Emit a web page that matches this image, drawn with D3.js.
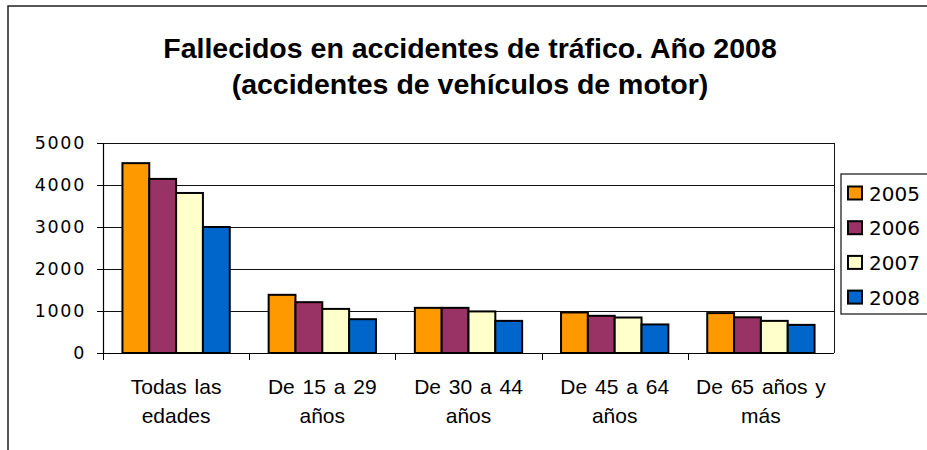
<!DOCTYPE html>
<html>
<head>
<meta charset="utf-8">
<script src="https://cdn.jsdelivr.net/npm/d3@7"></script>
<style>
  body { margin: 0; background: #fff; }
  svg { display: block; }
</style>
</head>
<body>
<div id="chart"></div>
<script>
// age groups (two label lines each)
const categories = ['Todas las edades', 'De 15 a 29 años', 'De 30 a 44 años', 'De 45 a 64 años', 'De 65 años y más'];
const categoryLines = [
  ['Todas las', 'edades'],
  ['De 15 a 29', 'años'],
  ['De 30 a 44', 'años'],
  ['De 45 a 64', 'años'],
  ['De 65 años y', 'más']
];
const years = ['2005', '2006', '2007', '2008'];
const values2005 = [4520, 1385, 1075, 965, 950];
const values2006 = [4145, 1210, 1075, 885, 850];
const values2007 = [3810, 1050, 990, 845, 765];
const values2008 = [3000, 805, 765, 680, 670];
const yTicks = [0, 1000, 2000, 3000, 4000, 5000];
const titleLines = ['Fallecidos en accidentes de tráfico. Año 2008', '(accidentes de vehículos de motor)'];

const series = [values2005, values2006, values2007, values2008];
const colors = ['#ff9900', '#993366', '#ffffcc', '#0066cc'];

const width = 927, height = 450;
const plot = { left: 103, right: 834, top: 143, bottom: 353 };

const svg = d3.select('#chart').append('svg')
    .attr('width', width)
    .attr('height', height);

// outer frame
svg.append('rect')
    .attr('x', 8).attr('y', 6)
    .attr('width', 940).attr('height', 460)
    .attr('fill', 'none')
    .attr('stroke', '#222')
    .attr('stroke-width', 1.5);

// title
svg.append('g')
    .attr('font-family', '"Liberation Sans", Arial, sans-serif')
    .attr('font-weight', 'bold')
    .attr('font-size', 28.5)
    .attr('text-anchor', 'middle')
  .selectAll('text')
  .data(titleLines)
  .join('text')
    .attr('x', 470)
    .attr('y', (d, i) => 58 + i * 36)
    .text(d => d);

const x0 = d3.scaleBand()
    .domain(categories)
    .range([plot.left, plot.right])
    .paddingInner(0.266)
    .paddingOuter(0.133);

const x1 = d3.scaleBand()
    .domain(years)
    .range([0, x0.bandwidth()]);

const y = d3.scaleLinear()
    .domain([0, 5000])
    .range([plot.bottom, plot.top]);

// gridlines
svg.append('g')
    .attr('stroke', '#111')
    .attr('stroke-width', 1)
  .selectAll('line')
  .data(yTicks.slice(1))
  .join('line')
    .attr('x1', plot.left).attr('x2', plot.right)
    .attr('y1', d => Math.round(y(d)) + 0.5)
    .attr('y2', d => Math.round(y(d)) + 0.5);

// right border of plot area
svg.append('line')
    .attr('x1', plot.right + 0.5).attr('x2', plot.right + 0.5)
    .attr('y1', plot.top).attr('y2', plot.bottom)
    .attr('stroke', '#111');

// y axis
const yAxis = svg.append('g')
    .attr('transform', `translate(${plot.left},0)`)
    .call(d3.axisLeft(y).tickValues(yTicks).tickSize(6).tickPadding(11).tickFormat(d3.format('d')));
yAxis.select('.domain').attr('stroke', '#000').attr('stroke-width', 1.2);
yAxis.selectAll('.tick line').attr('stroke', '#000');
yAxis.selectAll('text')
    .attr('font-family', '"DejaVu Sans", Verdana, sans-serif')
    .attr('font-size', 17.5)
    .attr('letter-spacing', 1.7)
    .attr('fill', '#000');

// x axis with ticks at band boundaries
const boundaries = d3.range(categories.length + 1).map(i => plot.left + i * x0.step());
svg.append('line')
    .attr('x1', plot.left).attr('x2', plot.right)
    .attr('y1', plot.bottom + 0.5).attr('y2', plot.bottom + 0.5)
    .attr('stroke', '#000').attr('stroke-width', 1.2);
svg.append('g')
    .attr('stroke', '#000')
  .selectAll('line')
  .data(boundaries.slice(0, -1))
  .join('line')
    .attr('x1', d => Math.round(d) + 0.5).attr('x2', d => Math.round(d) + 0.5)
    .attr('y1', plot.bottom).attr('y2', plot.bottom + 7);

// category labels
svg.append('g')
    .attr('font-family', '"Liberation Sans", Arial, sans-serif')
    .attr('font-size', 21)
    .attr('word-spacing', 2)
    .attr('text-anchor', 'middle')
  .selectAll('text')
  .data(categories)
  .join('text')
    .attr('x', d => x0(d) + x0.bandwidth() / 2)
    .attr('y', 394)
    .each(function(d, i) {
      d3.select(this).selectAll('tspan')
        .data(categoryLines[i])
        .join('tspan')
          .attr('x', x0(d) + x0.bandwidth() / 2)
          .attr('dy', (t, j) => j === 0 ? 0 : 29)
          .text(t => t);
    });

// bars
const groups = svg.append('g')
  .selectAll('g')
  .data(categories)
  .join('g')
    .attr('transform', d => `translate(${x0(d)},0)`);

groups.selectAll('rect')
  .data((d, i) => years.map((yr, j) => ({ year: yr, value: series[j][i], color: colors[j] })))
  .join('rect')
    .attr('x', d => x1(d.year))
    .attr('y', d => y(d.value))
    .attr('width', x1.bandwidth())
    .attr('height', d => y(0) - y(d.value))
    .attr('fill', d => d.color)
    .attr('stroke', '#000')
    .attr('stroke-width', 2);

// legend
const legend = svg.append('g');
legend.append('rect')
    .attr('x', 841).attr('y', 174)
    .attr('width', 100).attr('height', 140)
    .attr('fill', '#fff')
    .attr('stroke', '#111')
    .attr('stroke-width', 1.2);

const item = legend.selectAll('g')
  .data(years)
  .join('g')
    .attr('transform', (d, i) => `translate(0,${193 + i * 34.7})`);

item.append('rect')
    .attr('x', 848).attr('y', -6.5)
    .attr('width', 14).attr('height', 13)
    .attr('fill', (d, i) => colors[i])
    .attr('stroke', '#000')
    .attr('stroke-width', 2);

item.append('text')
    .attr('x', 869)
    .attr('y', 7.5)
    .attr('font-family', '"DejaVu Sans", Verdana, sans-serif')
    .attr('font-size', 20)
    .text(d => d);
</script>
</body>
</html>
